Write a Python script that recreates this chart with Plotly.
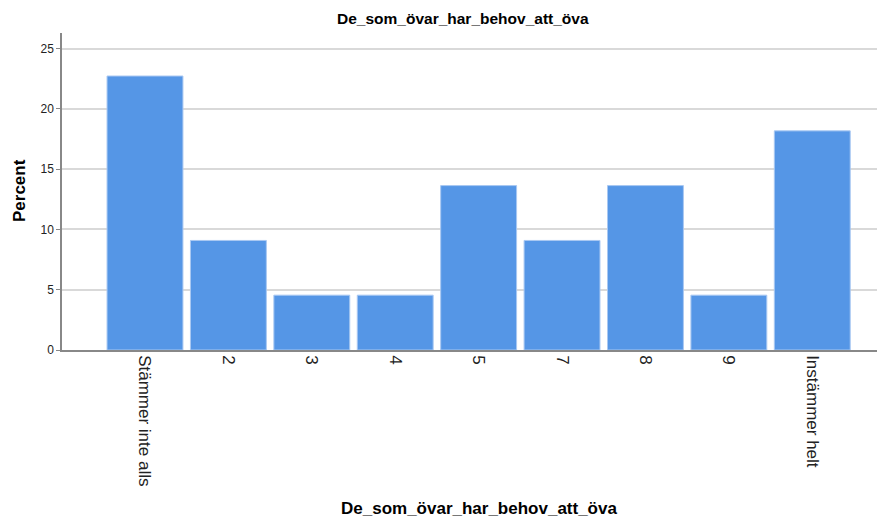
import plotly.graph_objects as go

categories = ["Stämmer inte alls", "2", "3", "4", "5", "7", "8", "9", "Instämmer helt"]
percent = [22.73, 9.09, 4.55, 4.55, 13.64, 9.09, 13.64, 4.55, 18.18]
y_ticks = [0, 5, 10, 15, 20, 25]
title = "De_som_övar_har_behov_att_öva"

# The page body has an 8px margin, so the figure is 8px smaller than the window.
W, H = 877, 515
L, R, T, B = 54, 1, 25, 173
PW, PH = W - L - R, H - T - B

fig = go.Figure(go.Bar(
    x=categories, y=percent,
    marker=dict(color="#5596e6", line=dict(color="#a9c8f2", width=1)),
    width=0.91,
))

font = "Liberation Sans, Arial, sans-serif"
fig.update_layout(
    width=W, height=H,
    margin=dict(l=L, r=R, t=T, b=B),
    paper_bgcolor="white", plot_bgcolor="white",
    font=dict(family=font, color="black"),
    showlegend=False,
    xaxis=dict(
        range=[-0.995, 8.86], tickangle=90, tickfont=dict(size=17, color="#222"),
        showline=True, linecolor="#888", linewidth=1.5, ticks="", showgrid=False,
        automargin=False,
    ),
    yaxis=dict(
        range=[0, 26.3], tickvals=y_ticks, tickfont=dict(size=12, color="#222"),
        showline=True, linecolor="#888", linewidth=1.5, ticks="outside", ticklen=4, tickcolor="#888",
        showgrid=True, gridcolor="#d9d9d9", gridwidth=1.5, zeroline=False,
        automargin=False,
    ),
)

def px(x):
    return (x - L) / PW

def py(y):
    return (H - B - y) / PH

# chart title
fig.add_annotation(text="<b>" + title + "</b>", xref="paper", yref="paper",
                   x=px(455), y=py(10), xanchor="center", yanchor="middle", showarrow=False,
                   font=dict(family=font, size=15.5, color="black"))
# x-axis title
fig.add_annotation(text="<b>" + title + "</b>", xref="paper", yref="paper",
                   x=px(471), y=py(500), xanchor="center", yanchor="middle", showarrow=False,
                   font=dict(family=font, size=17, color="black"))
# y-axis title
fig.add_annotation(text="<b>Percent</b>", xref="paper", yref="paper",
                   x=px(11), y=py(183), xanchor="center", yanchor="middle", showarrow=False,
                   textangle=-90, font=dict(family=font, size=17, color="black"))
fig.write_html("out.html")
